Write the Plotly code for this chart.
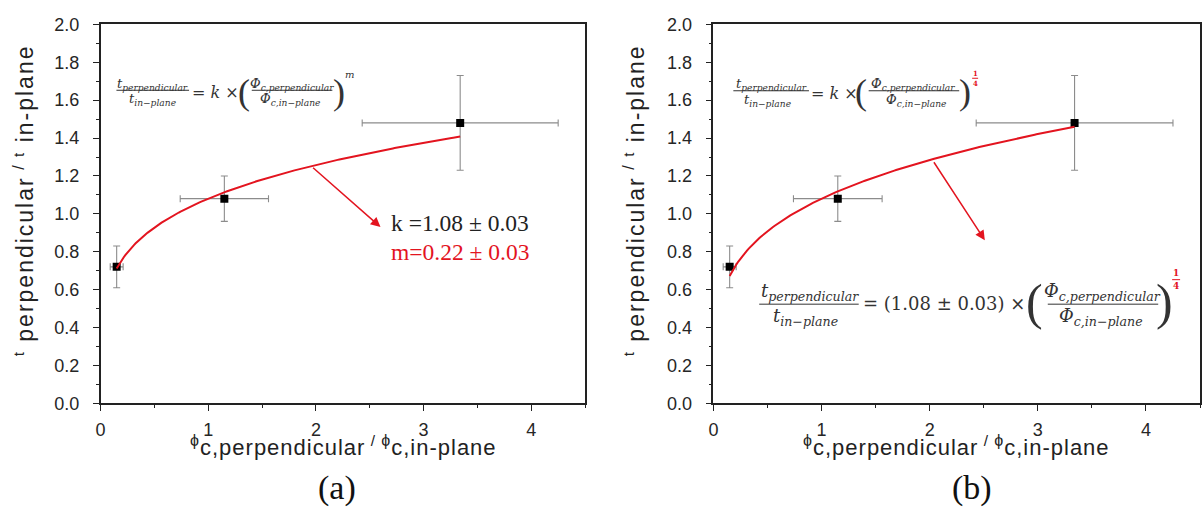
import plotly.graph_objects as go
import numpy as np

W, H = 1202, 518

# ---- data ----
phi_ratio = [0.15, 1.15, 3.34]      # phi_c,perp / phi_c,in-plane
t_ratio = [0.72, 1.08, 1.48]        # t_perp / t_in-plane
phi_err = [0.06, 0.41, 0.91]
t_err = [0.11, 0.12, 0.25]
k_fit = 1.08
m_fit_a = 0.22
m_fit_b = 0.25
x_tick_vals = [0, 1, 2, 3, 4]
y_tick_vals = [0.0, 0.2, 0.4, 0.6, 0.8, 1.0, 1.2, 1.4, 1.6, 1.8, 2.0]
y_tick_text = ["%.1f" % v for v in y_tick_vals]

RED = "#e3141f"
GRAY = "#8c8c8c"
MATH = "#333333"
SANS = "Liberation Sans, Arial"
MFONT = "DejaVu Serif"
PAREN = "Liberation Serif"


def px(x):
    return x / W


def py(y):
    return 1 - y / H


fig = go.Figure()

x_fit = np.linspace(phi_ratio[0], phi_ratio[-1], 200)
for i, m in enumerate([m_fit_a, m_fit_b]):
    xa = "x" if i == 0 else "x2"
    ya = "y" if i == 0 else "y2"
    fig.add_trace(go.Scatter(
        x=phi_ratio, y=t_ratio, mode="markers", xaxis=xa, yaxis=ya,
        marker=dict(symbol="square", size=8, color="black"),
        error_x=dict(type="data", array=phi_err, color=GRAY, thickness=1.1, width=3.5),
        error_y=dict(type="data", array=t_err, color=GRAY, thickness=1.1, width=3.5),
        showlegend=False))
    fig.add_trace(go.Scatter(
        x=x_fit, y=k_fit * x_fit ** m, mode="lines", xaxis=xa, yaxis=ya,
        line=dict(color=RED, width=2), showlegend=False))

axis_common = dict(
    showgrid=False, zeroline=False, showline=True, linecolor="#222", linewidth=1.5,
    mirror=True, ticks="outside", ticklen=6, tickwidth=1.2, tickcolor="#222",
    tickfont=dict(family=SANS, size=18, color="#262626"),
)
xa_common = dict(axis_common, range=[0, 4.5], tickvals=x_tick_vals, ticklabelstandoff=3,
                 minor=dict(ticks="outside", ticklen=3, tickwidth=1, tickcolor="#222", dtick=0.5))
ya_common = dict(axis_common, range=[0, 2.0], tickvals=y_tick_vals, ticktext=y_tick_text,
                 ticklabelstandoff=10,
                 minor=dict(ticks="outside", ticklen=3, tickwidth=1, tickcolor="#222", dtick=0.1))

fig.update_layout(
    width=W, height=H, margin=dict(l=0, r=0, t=0, b=0),
    paper_bgcolor="white", plot_bgcolor="white",
    xaxis=dict(xa_common, domain=[px(96), px(583)], anchor="y"),
    yaxis=dict(ya_common, domain=[py(409), py(15)], anchor="x"),
    xaxis2=dict(xa_common, domain=[px(712), px(1201)], anchor="y2"),
    yaxis2=dict(ya_common, domain=[py(409), py(15)], anchor="x2"),
)

ann = []


def text(x, y, s, size, color=MATH, family=MFONT, xanchor="center", angle=0):
    ann.append(dict(x=px(x), y=py(y), xref="paper", yref="paper", text=s,
                    showarrow=False, xanchor=xanchor, yanchor="middle", textangle=angle,
                    font=dict(family=family, size=size, color=color)))


shapes = []


def bar(x0, x1, y, width=1, color=MATH):
    shapes.append(dict(type="line", xref="paper", yref="paper",
                       x0=px(x0), x1=px(x1), y0=py(y), y1=py(y),
                       line=dict(color=color, width=width)))


# ---- axis titles ----
xt = ("<span style='letter-spacing:1px'><sup><span style='font-size:16px'>ϕ</span></sup>c,perpendicular"
      "<sup> / <span style='font-size:16px'>ϕ</span></sup>c,in-plane</span>")
yt = ("<span style='letter-spacing:2px'><sup><span style='font-size:15px'>t</span></sup> perpendicular"
      "<sup> / <span style='font-size:15px'>t</span></sup> in-plane</span>")
for cx in (340, 956):
    text(cx, 453, xt, 22, "#222", SANS)
text(19, 198, yt, 23, "#222", SANS, angle=-90)
text(633, 198, yt, 23, "#222", SANS, angle=-90)

# ---- panel (a) top formula ----
text(148, 77, "<i>t<sub>perpendicular</sub></i>", 13)
bar(112, 185, 83.5)
text(148, 93, "<i>t<sub>in−plane</sub></i>", 13)
text(212, 86, "= <i>k</i> ×", 16)
text(240, 85, "(", 36, family=PAREN)
text(288, 77, "<i>Φ<sub>c,perpendicular</sub></i>", 13)
bar(248, 329, 83.5)
text(286, 93, "<i>Φ<sub>c,in−plane</sub></i>", 13)
text(336, 85, ")", 36, family=PAREN)
text(346, 67, "<i>m</i>", 10)

# ---- panel (b) top formula ----
text(770, 77, "<i>t<sub>perpendicular</sub></i>", 13)
bar(732, 808, 84)
text(766, 94, "<i>t<sub>in−plane</sub></i>", 13)
text(834, 87, "= <i>k</i> ×", 16)
text(860, 85, "(", 36, family=PAREN)
text(913, 77, "<i>Φ<sub>c,perpendicular</sub></i>", 13)
bar(868, 959, 84)
text(916, 94, "<i>Φ<sub>c,in−plane</sub></i>", 13)
text(965, 85, ")", 36, family=PAREN)
text(975, 66, "<b>1</b>", 7, RED)
bar(972, 978, 71, 1, RED)
text(975, 76, "<b>4</b>", 7, RED)

# ---- panel (b) bottom formula ----
text(809, 293, "<i>t<sub>perpendicular</sub></i>", 18)
bar(758, 858, 306)
text(805, 319, "<i>t<sub>in−plane</sub></i>", 18)
text(944, 305, "= (1.08 ± 0.03) ×", 18)
text(1035, 304, "(", 50, family=PAREN)
text(1103, 293, "<i>Φ<sub>c,perpendicular</sub></i>", 18)
bar(1048, 1159, 306)
text(1101, 319, "<i>Φ<sub>c,in−plane</sub></i>", 18)
text(1165, 304, ")", 50, family=PAREN)
text(1177, 274, "<b>1</b>", 9, RED)
bar(1173, 1181, 280.5, 1, RED)
text(1177, 287, "<b>4</b>", 9, RED)

# ---- fit parameter text (a) ----
text(386, 222, "k =1.08 ± 0.03", 23.5, "#222", family=PAREN, xanchor="left")
text(386, 252, "m=0.22 ± 0.03", 23.5, RED, family=PAREN, xanchor="left")

# panel labels
text(334, 497, "(a)", 34, "#111", family=PAREN)
text(972, 497, "(b)", 34, "#111", family=PAREN)

# arrows from the fit curves
ann.append(dict(x=2.6, y=0.93, ax=1.96, ay=1.25, xref="x", yref="y", axref="x", ayref="y",
                showarrow=True, arrowhead=2, arrowsize=1.3, arrowwidth=1.5, arrowcolor=RED, text=""))
ann.append(dict(x=2.51, y=0.86, ax=2.03, ay=1.28, xref="x2", yref="y2", axref="x2", ayref="y2",
                showarrow=True, arrowhead=2, arrowsize=1.3, arrowwidth=1.5, arrowcolor=RED, text=""))

fig.update_layout(annotations=ann, shapes=shapes)
fig.write_html("out.html")
